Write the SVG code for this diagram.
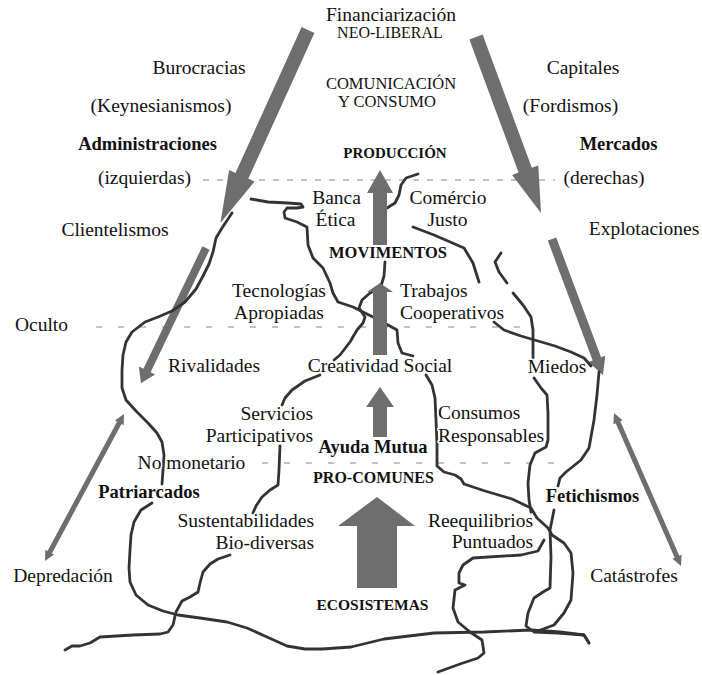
<svg xmlns="http://www.w3.org/2000/svg" width="702" height="675" viewBox="0 0 702 675">
<style>
text{font-family:"Liberation Serif","DejaVu Serif",serif;fill:#111;font-size:19.5px;text-anchor:middle;paint-order:stroke;stroke:#fff;stroke-width:3px;stroke-linejoin:round}
.b{font-weight:bold;font-size:18.5px}
.cap{font-size:16px}
.s{text-anchor:start}
.e{text-anchor:end}
.ln{fill:none;stroke:#333;stroke-width:2.8;stroke-linejoin:round;stroke-linecap:round}
.dash{stroke:#888;stroke-width:1.2;fill:none}
.arr{fill:#6e6e6e}
</style>
<rect width="702" height="675" fill="#fff"/>

<g id="levels">
<line class="dash" x1="203" y1="180" x2="555" y2="180" stroke-dasharray="6 8"/>
<line class="dash" x1="96" y1="327" x2="520" y2="327" stroke-dasharray="6 16"/>
<line class="dash" x1="262" y1="463" x2="562" y2="463" stroke-dasharray="6 16"/>
</g>

<g id="connectors">
<g id="side-arrows">
<polygon class="arr" points="301.6,27.1 314.4,32.9 248.3,178.7 254.6,181.6 220.4,223.1 229.1,170 235.5,172.9"/>
<polygon class="arr" points="469.4,39.4 482.6,34.6 531.8,167.8 538.3,165.4 541,213 512.1,175.1 518.6,172.6"/>
<polygon class="arr" points="202.4,246.3 209.6,249.7 150.6,372.2 155.1,374.4 140.9,383.2 138.9,366.6 143.4,368.8"/>
<polygon class="arr" points="547.8,240.6 556.2,237.4 601.1,357.3 605.3,355.7 602.9,374.9 588.5,362.1 592.7,360.5"/>
<polygon class="arr" points="45,561 54.1,554.6 51.9,553.4 121.5,424 123.7,425.2 124,414 114.9,420.4 117.1,421.6 47.5,551 45.3,549.8"/>
<polygon class="arr" points="614,413 622.6,420.2 620.3,421.2 679.3,555.8 681.6,554.8 681,566 672.4,558.8 674.7,557.8 615.7,423.2 613.4,424.2"/>
</g>
<g id="lines">
<path class="ln" d="M232,213 L222,228 L216,238 L213,252 L209,264 L203,276 L196,289 L185,302 L172,311 L158,317 L145,322 L132,332 L126,342 L123,355 L122,370 L122,388 L126,400 L136,411 L148,423 L157,433 L162,442 L164,455 L163,470 L162,484"/>
<path class="ln" d="M152,503 L141,510 L134,522 L131,535 L130,550 L129,568 L130,582 L136,595 L148,605 L163,611 L178,615 L200,618 L227,622 L247,628 L267,637 L287,646 L305,649 L322,649 L351,647 L384,639 L434,633 L484,632 L531,630 L560,632 L584,635 L589,643"/>
<path class="ln" d="M230,555 L218,559 L210,564 L203,572 L200,583 L198,592 L190,597 L182,601 L176,612 L173,625 L168,632 L160,634 L133,635 L100,637 L90,643 L80,646 L72,646 L65,650"/>
<path class="ln" d="M280,446 L279,470 L278,485 L270,490 L262,497 L256,506 L253,513"/>
<path class="ln" d="M320,375 L305,381 L292,390 L285,398 L282,405"/>
<path class="ln" d="M426,375 L432,385 L435,398 L436,420 L437,445 L437,466 L444,472 L455,475 L461,479 L464,484 L485,491 L512,499 L531,508 L537,518 L548,528 L552,535 L564,543 L571,553 L573,573 L571,600 L564,613 L554,625 L538,631"/>
<path class="ln" d="M534,378 L541,388 L547,395 L548,413 L548,440 L546,447 L535,453 L530,465 L528,483 L529,500 L531,512"/>
<path class="ln" d="M599,372 L597,395 L594,420 L589,448 L581,460 L566,472 L560,478 L558,486"/>
<path class="ln" d="M554,510 L550,530 L551,557 L550,588 L543,592 L534,598 L528,613 L526,626 L534,632 L558,633 L584,635 L589,643"/>
<path class="ln" d="M544,540 L538,551 L521,555 L473,558 L463,565 L459,573 L459,583 L465,585 L455,590 L453,608 L458,622 L470,632 L482,640 L484,653 L478,658 L460,664 L438,672"/>
<path class="ln" d="M387,208 L395,203 L399,195 L401,185 L406,178 L418,174"/>
<path class="ln" d="M413,227 L434,235 L464,248 L473,263 L479,282"/>
<path class="ln" d="M501,253 L495,262 L499,272 L507,283"/>
<path class="ln" d="M513,293 L523,305 L531,317 L533,330 L533,345 L533,358"/>
<path class="ln" d="M494,322 L504,330 L521,336 L538,341 L555,346 L571,352 L584,358 L591,366"/>
<path class="ln" d="M251,199 L268,202 L288,203 L301,204 L303,207 L297,208 L287,208 L284,212 L285,218 L297,222 L307,227 L308,245 L313,258 L323,268 L330,283 L333,293 L338,302 L353,307 L373,317 L388,325 L397,330 L398,343 L402,353 L413,356"/>
<path class="ln" d="M385,262 L384,276 L381,286 L370,293 L362,300 L359,308 L365,317 L363,323 L357,330 L350,342 L340,355 L334,360"/>
</g>
<g id="center-arrows">
<polygon class="arr" points="373,245 373,193 367,193 380,170 393,193 387,193 387,245"/>
<polygon class="arr" points="373,355 373,292 367,292 380,283 393,292 387,292 387,355"/>
<polygon class="arr" points="373,437 373,407 366,407 380,387 394,407 387,407 387,437"/>
<polygon class="arr" points="357,588 357,526 338,526 377,497 415,526 397,526 397,588"/>
</g>
</g>

<g id="n-financiarizacion"><text x="391" y="21">Financiarización</text><text class="cap" x="390" y="38">NEO-LIBERAL</text></g>
<g id="n-burocracias"><text x="199" y="74">Burocracias</text></g>
<g id="n-keynesianismos"><text x="161" y="112">(Keynesianismos)</text></g>
<g id="n-administraciones"><text class="b" x="147.5" y="150">Administraciones</text></g>
<g id="n-izquierdas"><text x="144.5" y="184">(izquierdas)</text></g>
<g id="n-capitales"><text x="583" y="74">Capitales</text></g>
<g id="n-fordismos"><text x="570.5" y="112">(Fordismos)</text></g>
<g id="n-mercados"><text class="b" x="618.5" y="150">Mercados</text></g>
<g id="n-derechas"><text x="604" y="184">(derechas)</text></g>
<g id="n-comunicacion"><text style="font-size:16.5px" x="391" y="89">COMUNICACIÓN</text><text style="font-size:16.5px" x="387" y="107">Y CONSUMO</text></g>
<g id="n-produccion"><text style="font-size:15px;font-weight:bold" x="395" y="158">PRODUCCIÓN</text></g>
<g id="n-banca"><text x="336.5" y="204">Banca</text><text x="335.5" y="226">Ética</text></g>
<g id="n-comercio"><text x="448" y="204">Comércio</text><text x="447.5" y="226">Justo</text></g>
<g id="n-movimentos"><text style="font-size:16.5px;font-weight:bold" x="388" y="258">MOVIMENTOS</text></g>
<g id="n-clientelismos"><text x="115" y="236">Clientelismos</text></g>
<g id="n-explotaciones"><text x="644" y="235">Explotaciones</text></g>
<g id="n-tecnologias"><text x="279" y="297">Tecnologías</text><text x="279" y="319">Apropiadas</text></g>
<g id="n-trabajos"><text class="s" x="400" y="297">Trabajos</text><text class="s" x="400" y="319">Cooperativos</text></g>
<g id="n-oculto"><text x="41.5" y="331">Oculto</text></g>
<g id="n-rivalidades"><text x="214" y="372">Rivalidades</text></g>
<g id="n-creatividad"><text x="380" y="372">Creatividad Social</text></g>
<g id="n-miedos"><text x="557" y="373">Miedos</text></g>
<g id="n-servicios"><text class="e" x="313" y="420">Servicios</text><text class="e" x="313" y="442">Participativos</text></g>
<g id="n-consumos"><text class="s" x="438" y="419">Consumos</text><text class="s" x="438" y="442">Responsables</text></g>
<g id="n-ayuda"><text class="b" x="373" y="453">Ayuda Mutua</text></g>
<g id="n-nomonetario"><text x="191.5" y="469">No monetario</text></g>
<g id="n-procomunes"><text style="font-size:16px;font-weight:bold" x="373.5" y="483">PRO-COMUNES</text></g>
<g id="n-patriarcados"><text class="b" x="149" y="498">Patriarcados</text></g>
<g id="n-fetichismos"><text class="b" x="592.5" y="502">Fetichismos</text></g>
<g id="n-sustentabilidades"><text class="e" x="314" y="527">Sustentabilidades</text><text class="e" x="314" y="549">Bio-diversas</text></g>
<g id="n-reequilibrios"><text class="e" x="533" y="527">Reequilibrios</text><text class="e" x="533" y="548">Puntuados</text></g>
<g id="n-depredacion"><text x="63" y="582">Depredación</text></g>
<g id="n-catastrofes"><text x="634" y="582">Catástrofes</text></g>
<g id="n-ecosistemas"><text style="font-size:15.5px;font-weight:bold" x="372.5" y="610">ECOSISTEMAS</text></g>
</svg>
